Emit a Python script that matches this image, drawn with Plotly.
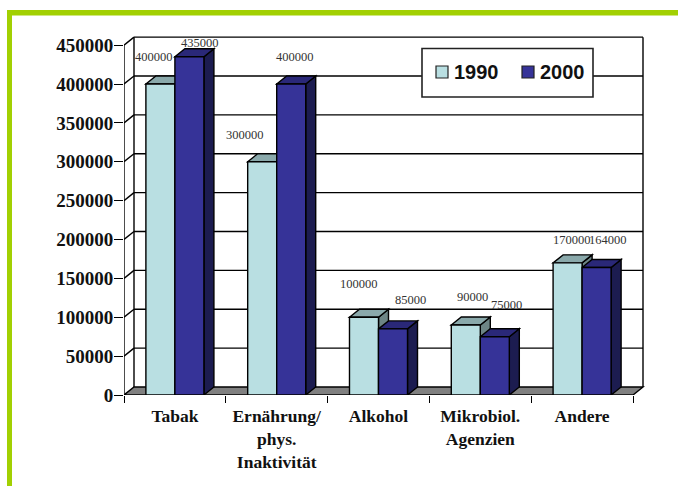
import plotly.graph_objects as go

categories = ["Tabak", "Ernährung/<br>phys.<br>Inaktivität", "Alkohol", "Mikrobiol.<br>Agenzien", "Andere"]
series_names = ["1990", "2000"]
values_1990 = [400000, 300000, 100000, 90000, 170000]
values_2000 = [435000, 400000, 85000, 75000, 164000]
y_ticks = [0, 50000, 100000, 150000, 200000, 250000, 300000, 350000, 400000, 450000]

# hand-placed value labels: shift from the top centre of each bar, in pixels
label_shift_1990 = [(-6.5, 27.5), (-17, 27), (-5, 33), (6.5, 28), (4.5, 23)]
label_shift_2000 = [(10.5, 14), (4, 27), (17, 29), (11.5, 32), (11.5, 27.5)]

WIDTH, HEIGHT = 678, 486
LEFT, RIGHT, TOP, BOTTOM = 124, 645, 35, 395
CAT_PX = 101.8
UNIT_PX = 311 / 400000
DX = 10 / CAT_PX            # depth of the 3D box along x, in category units
DY = 8 / UNIT_PX            # depth of the 3D box along y, in value units
BAR_W = 0.285
LINE = "#000000"
FACE = {"1990": ("#b9dfe2", "#8aa9ab", "#6d8585"), "2000": ("#363398", "#2a2878", "#1c1c50")}


def poly(points, fill, width=1.4):
    path = "M " + " L ".join(f"{x},{y}" for x, y in points) + " Z"
    return dict(type="path", path=path, xref="x", yref="y", layer="below",
                fillcolor=fill, line=dict(color=LINE, width=width))


def seg(x0, y0, x1, y1, width=1.4):
    return dict(type="line", x0=x0, y0=y0, x1=x1, y1=y1, xref="x", yref="y", layer="below",
                line=dict(color=LINE, width=width))


def px_x(p):
    return (p - LEFT) / (RIGHT - LEFT)


def px_y(p):
    return (BOTTOM - p) / (BOTTOM - TOP)


shapes = []

# green page frame along the top and left edges
frame = "#a2d002"
shapes.append(dict(type="rect", xref="paper", yref="paper", layer="below", line_width=0, fillcolor=frame,
                   x0=px_x(7), x1=px_x(678), y0=px_y(15.5), y1=px_y(10)))
shapes.append(dict(type="rect", xref="paper", yref="paper", layer="below", line_width=0, fillcolor=frame,
                   x0=px_x(7), x1=px_x(12), y0=px_y(486), y1=px_y(10)))

# back wall, side wall and floor of the 3D box
n = len(categories)
top_value = y_ticks[-1]
for v in y_ticks[1:]:
    shapes.append(seg(DX, v + DY, n + DX, v + DY))
    shapes.append(seg(0, v, DX, v + DY))
shapes.append(seg(DX, DY, DX, top_value + DY))
shapes.append(seg(n + DX, DY, n + DX, top_value + DY))
shapes.append(seg(0, 0, 0, top_value))
shapes.append(poly([(0, 0), (n, 0), (n + DX, DY), (DX, DY)], "#808080"))

# side and top faces of each bar; the front faces are the bar traces
for i in range(n):
    for name, vals, x0 in (("1990", values_1990, i + 0.5 - BAR_W), ("2000", values_2000, i + 0.5)):
        v = vals[i]
        x1 = x0 + BAR_W
        _, top_c, side_c = FACE[name]
        shapes.append(poly([(x1, 0), (x1 + DX, DY), (x1 + DX, v + DY), (x1, v)], side_c))
        shapes.append(poly([(x0, v), (x1, v), (x1 + DX, v + DY), (x0 + DX, v + DY)], top_c))

centres = [i + 0.5 for i in range(n)]
fig = go.Figure()
for name, vals in zip(series_names, (values_1990, values_2000)):
    fig.add_trace(go.Bar(x=centres, y=vals, name=name, showlegend=False,
                         marker=dict(color=FACE[name][0], line=dict(color=LINE, width=1.4))))

annotations = []
for i in range(n):
    for vals, shifts, off in ((values_1990, label_shift_1990, -BAR_W / 2), (values_2000, label_shift_2000, BAR_W / 2)):
        annotations.append(dict(x=i + 0.5 + off, y=vals[i], xref="x", yref="y", text=str(vals[i]), showarrow=False,
                                xshift=shifts[i][0], yshift=shifts[i][1],
                                font=dict(family="Liberation Serif", size=12.5, color="#333333")))

# legend panel: swatch squares beside bold year labels
shapes.append(dict(type="rect", xref="paper", yref="paper", layer="above", fillcolor="white",
                   line=dict(color="#222222", width=1.6),
                   x0=px_x(422), x1=px_x(593), y0=px_y(97), y1=px_y(48.5)))
for name, swatch_left, text_left in zip(series_names, (436, 522), (454, 540)):
    shapes.append(dict(type="rect", xref="paper", yref="paper", layer="above", fillcolor=FACE[name][0],
                       line=dict(color="#222222", width=1.2),
                       x0=px_x(swatch_left), x1=px_x(swatch_left + 12), y0=px_y(78), y1=px_y(66)))
    annotations.append(dict(x=px_x(text_left), y=px_y(72), xref="paper", yref="paper", text=name, showarrow=False,
                            xanchor="left", yanchor="middle", borderpad=0, borderwidth=0,
                            font=dict(family="Liberation Sans", size=20, color="#111111", weight="bold")))

fig.update_layout(
    width=WIDTH, height=HEIGHT, autosize=False,
    margin=dict(l=LEFT, r=WIDTH - RIGHT, t=TOP, b=HEIGHT - BOTTOM, pad=0),
    paper_bgcolor="white", plot_bgcolor="white", showlegend=False,
    barmode="group", bargap=0.43, bargroupgap=0,
    shapes=shapes, annotations=annotations,
    xaxis=dict(range=[0, (RIGHT - LEFT) / CAT_PX], tickmode="array", tickvals=centres, ticktext=categories,
               showgrid=False, zeroline=False, showline=False,
               ticks="outside", ticklen=5, tickcolor="rgba(0,0,0,0)", tickwidth=1,
               minor=dict(tickmode="array", tickvals=list(range(n + 1)), ticks="outside", ticklen=7,
                          tickcolor=LINE, tickwidth=1.4, showgrid=False),
               tickfont=dict(family="Liberation Serif", size=17.5, color="#111111", weight="bold")),
    yaxis=dict(range=[0, (BOTTOM - TOP) / UNIT_PX], tickmode="array", tickvals=y_ticks,
               ticktext=[str(v) for v in y_ticks],
               showgrid=False, zeroline=False, showline=False,
               ticks="outside", ticklen=9, tickcolor=LINE, tickwidth=1.4, ticklabelstandoff=-3,
               tickfont=dict(family="Liberation Serif", size=19, color="#111111", weight="bold")),
    hovermode=False,
)

fig.write_html("out.html")
